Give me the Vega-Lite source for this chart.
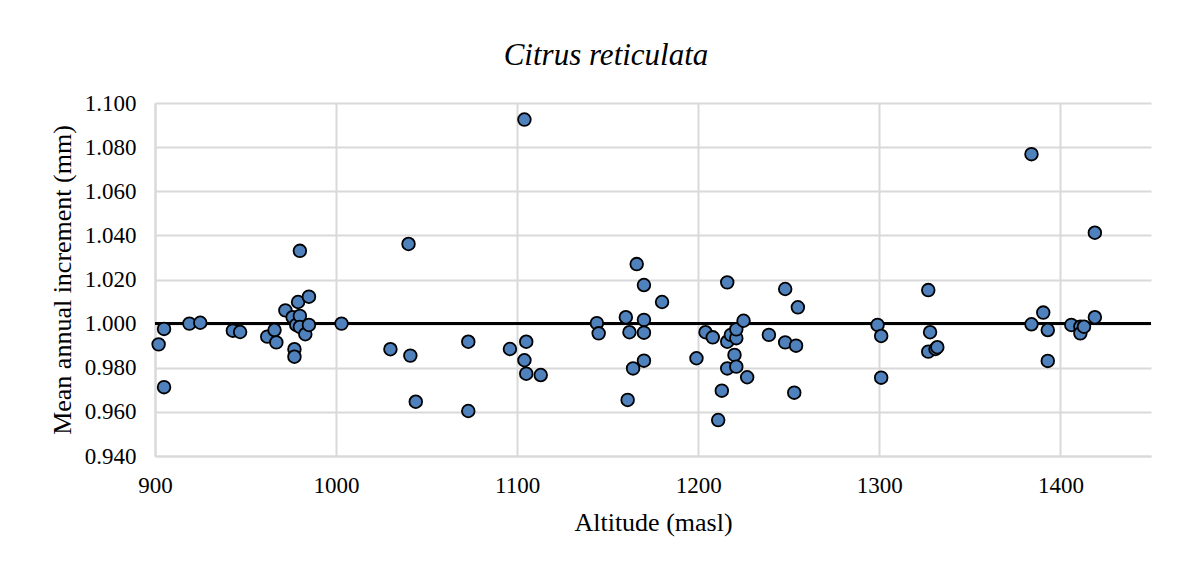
{
  "$schema": "https://vega.github.io/schema/vega-lite/v6.json",
  "autosize": {"type": "none"},
  "padding": {"left": 155, "top": 103, "right": 47, "bottom": 106},
  "width": 996,
  "height": 353,
  "background": "white",
  "title": {
    "text": "Citrus reticulata",
    "font": "Liberation Serif",
    "fontStyle": "italic",
    "fontWeight": "normal",
    "fontSize": 31,
    "color": "#000000",
    "anchor": "middle",
    "frame": "group",
    "dx": -47,
    "offset": 20
  },
  "config": {
    "view": {"stroke": null},
    "axis": {
      "labelFont": "Liberation Serif",
      "titleFont": "Liberation Serif",
      "labelFontSize": 23,
      "titleFontSize": 26,
      "labelColor": "#000000",
      "titleColor": "#000000",
      "titleFontWeight": "normal",
      "gridColor": "#d9d9d9",
      "gridWidth": 2,
      "domainColor": "#d9d9d9",
      "domainWidth": 2,
      "ticks": false,
      "tickSize": 0,
      "labelFlush": false
    }
  },
  "data": {
    "values": [
      {"alt": 902, "inc": 0.9906},
      {"alt": 905, "inc": 0.9976},
      {"alt": 905, "inc": 0.9712},
      {"alt": 919, "inc": 1.0000},
      {"alt": 925, "inc": 1.0004},
      {"alt": 943, "inc": 0.9968},
      {"alt": 947, "inc": 0.9962},
      {"alt": 962, "inc": 0.9941},
      {"alt": 966, "inc": 0.9971},
      {"alt": 967, "inc": 0.9915},
      {"alt": 972, "inc": 1.0060},
      {"alt": 976, "inc": 1.0029},
      {"alt": 977, "inc": 0.9884},
      {"alt": 977, "inc": 0.9850},
      {"alt": 978, "inc": 0.9994},
      {"alt": 979, "inc": 1.0098},
      {"alt": 980, "inc": 1.0330},
      {"alt": 980, "inc": 1.0035},
      {"alt": 980, "inc": 0.9985},
      {"alt": 983, "inc": 0.9952},
      {"alt": 985, "inc": 0.9994},
      {"alt": 985, "inc": 1.0122},
      {"alt": 1003, "inc": 1.0000},
      {"alt": 1030, "inc": 0.9884},
      {"alt": 1040, "inc": 1.0361},
      {"alt": 1041, "inc": 0.9855},
      {"alt": 1044, "inc": 0.9646},
      {"alt": 1073, "inc": 0.9918},
      {"alt": 1073, "inc": 0.9604},
      {"alt": 1096, "inc": 0.9885},
      {"alt": 1104, "inc": 1.0925},
      {"alt": 1105, "inc": 0.9918},
      {"alt": 1104, "inc": 0.9834},
      {"alt": 1105, "inc": 0.9773},
      {"alt": 1113, "inc": 0.9767},
      {"alt": 1144, "inc": 1.0002},
      {"alt": 1145, "inc": 0.9956},
      {"alt": 1160, "inc": 1.0029},
      {"alt": 1162, "inc": 0.9961},
      {"alt": 1164, "inc": 0.9797},
      {"alt": 1161, "inc": 0.9654},
      {"alt": 1166, "inc": 1.0270},
      {"alt": 1170, "inc": 1.0175},
      {"alt": 1170, "inc": 1.0017},
      {"alt": 1170, "inc": 0.9959},
      {"alt": 1170, "inc": 0.9832},
      {"alt": 1180, "inc": 1.0098},
      {"alt": 1199, "inc": 0.9843},
      {"alt": 1204, "inc": 0.9961},
      {"alt": 1208, "inc": 0.9938},
      {"alt": 1213, "inc": 0.9696},
      {"alt": 1211, "inc": 0.9563},
      {"alt": 1216, "inc": 1.0187},
      {"alt": 1216, "inc": 0.9797},
      {"alt": 1216, "inc": 0.9918},
      {"alt": 1218, "inc": 0.9949},
      {"alt": 1220, "inc": 0.9858},
      {"alt": 1221, "inc": 0.9805},
      {"alt": 1221, "inc": 0.9934},
      {"alt": 1221, "inc": 0.9974},
      {"alt": 1225, "inc": 1.0013},
      {"alt": 1227, "inc": 0.9757},
      {"alt": 1239, "inc": 0.9949},
      {"alt": 1248, "inc": 1.0157},
      {"alt": 1248, "inc": 0.9915},
      {"alt": 1254, "inc": 0.9900},
      {"alt": 1253, "inc": 0.9687},
      {"alt": 1255, "inc": 1.0074},
      {"alt": 1299, "inc": 0.9994},
      {"alt": 1301, "inc": 0.9944},
      {"alt": 1301, "inc": 0.9755},
      {"alt": 1327, "inc": 1.0152},
      {"alt": 1328, "inc": 0.9961},
      {"alt": 1327, "inc": 0.9873},
      {"alt": 1331, "inc": 0.9885},
      {"alt": 1332, "inc": 0.9893},
      {"alt": 1384, "inc": 1.0768},
      {"alt": 1384, "inc": 0.9997},
      {"alt": 1390.5, "inc": 1.0050},
      {"alt": 1393, "inc": 0.9971},
      {"alt": 1393, "inc": 0.9831},
      {"alt": 1406, "inc": 0.9994},
      {"alt": 1411, "inc": 0.9986},
      {"alt": 1411, "inc": 0.9956},
      {"alt": 1413, "inc": 0.9986},
      {"alt": 1419, "inc": 1.0029},
      {"alt": 1419, "inc": 1.0412}
    ]
  },
  "encoding": {
    "x": {
      "field": "alt",
      "type": "quantitative",
      "scale": {"domain": [900, 1450], "nice": false, "zero": false},
      "axis": {
        "title": "Altitude (masl)",
        "values": [900, 1000, 1100, 1200, 1300, 1400],
        "format": "d",
        "labelPadding": 18,
        "titlePadding": 12
      }
    },
    "y": {
      "field": "inc",
      "type": "quantitative",
      "scale": {"domain": [0.94, 1.1], "nice": false, "zero": false},
      "axis": {
        "title": "Mean annual increment (mm)",
        "values": [0.94, 0.96, 0.98, 1.0, 1.02, 1.04, 1.06, 1.08, 1.1],
        "format": ".3f",
        "labelPadding": 19,
        "titlePadding": 9
      }
    }
  },
  "layer": [
    {
      "mark": {"type": "rule", "color": "#000000", "strokeWidth": 2},
      "encoding": {"y": {"datum": 1}, "x": null}
    },
    {
      "mark": {"type": "point", "shape": "circle", "filled": true, "fill": "#4f81bd", "stroke": "#000000", "strokeWidth": 1.8, "size": 160, "opacity": 1}
    }
  ]
}
